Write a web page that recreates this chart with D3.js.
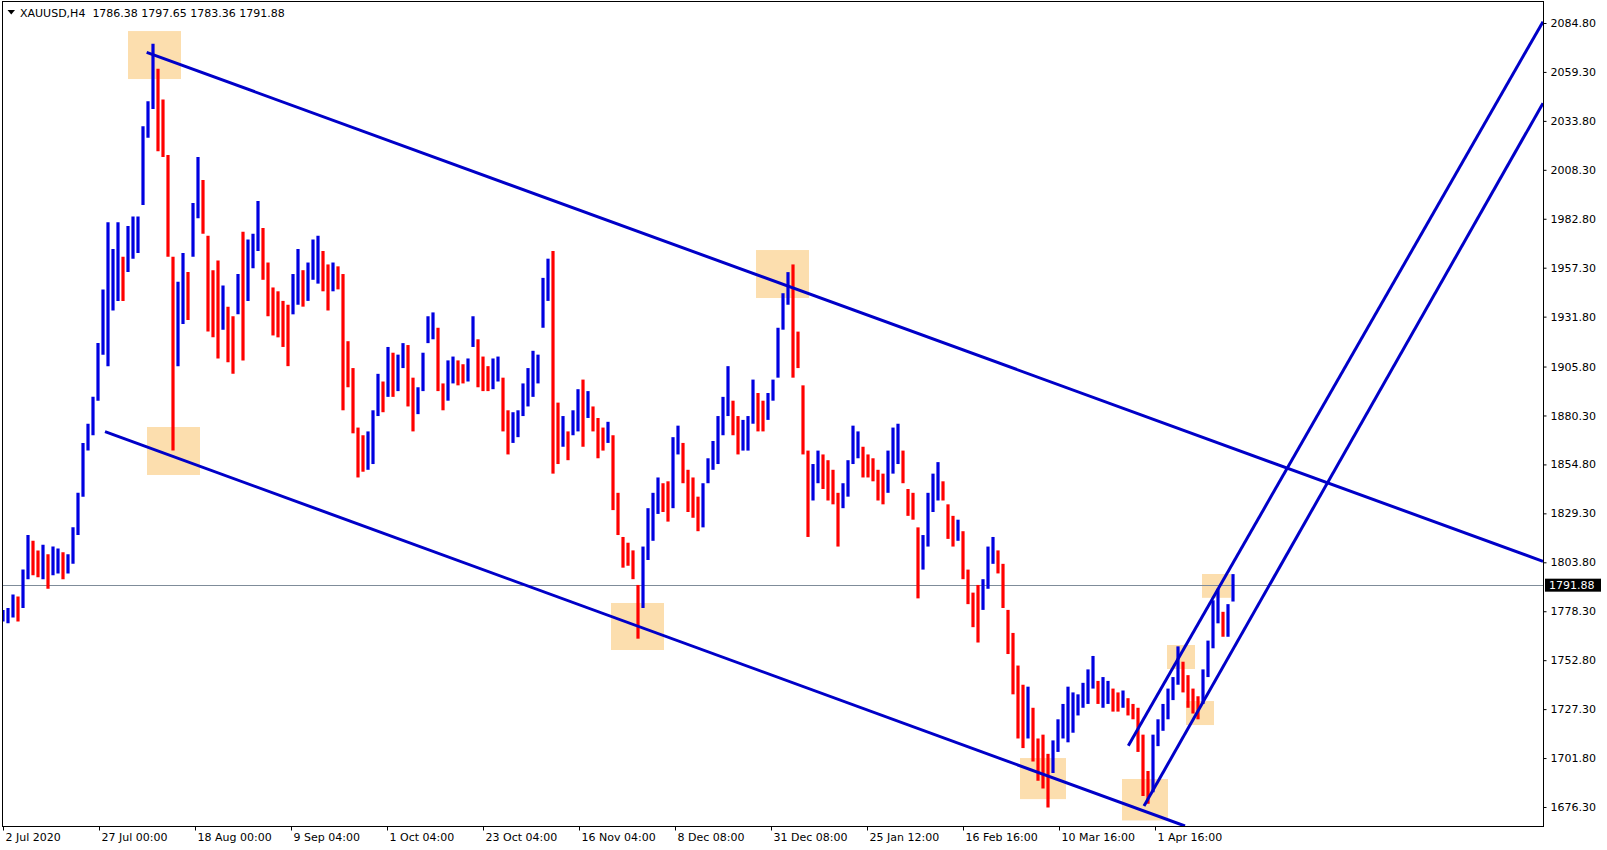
<!DOCTYPE html>
<html>
<head>
<meta charset="utf-8">
<script src="https://cdn.jsdelivr.net/npm/d3@7"></script>
<style>
  html, body { margin: 0; padding: 0; background: #fff; }
  svg { display: block; font-family: "DejaVu Sans", Verdana, sans-serif; }
  text { white-space: pre; }
</style>
</head>
<body>
<svg id="chart" width="1607" height="850"></svg>
<script>
// ---------- data ----------
const symbolTitle = "XAUUSD,H4  1786.38 1797.65 1783.36 1791.88";
const lastPrice = 1791.88;

// aggregated H4 bars (about 5 bars per sample), left to right
const barHigh = [
 1779,1780,1787,1786,1800,1818,1815,1810,1813,1808,
 1812,1811,1809,1808,1822,1840,1866,1876,1890,1918,
 1946,1981,1967,1981,1963,1979,1984,1984,2031,2044,
 2074,2061,2045,2016,1963,1950,1965,1955,1991,2015,
 2003,1974,1956,1961,1948,1937,1932,1954,1976,1972,
 1975,1992,1978,1960,1947,1945,1940,1938,1954,1967,
 1956,1960,1972,1974,1966,1959,1960,1958,1954,1919,
 1905,1874,1870,1872,1883,1902,1898,1916,1913,1912,
 1918,1917,1900,1895,1913,1932,1934,1926,1897,1909,
 1911,1909,1907,1910,1932,1920,1911,1906,1910,1911,
 1900,1883,1882,1883,1897,1905,1914,1912,1952,1962,
 1966,1887,1880,1872,1883,1894,1899,1893,1885,1879,
 1874,1877,1870,1840,1817,1814,1810,1792,1812,1832,
 1840,1848,1845,1846,1869,1875,1866,1852,1848,1838,
 1845,1858,1867,1880,1890,1906,1888,1880,1878,1880,
 1899,1892,1888,1892,1899,1926,1944,1955,1959,1924,
 1896,1862,1855,1862,1860,1857,1852,1840,1845,1857,
 1875,1872,1864,1860,1858,1852,1850,1862,1874,1876,
 1862,1842,1840,1822,1818,1840,1850,1856,1846,1834,
 1828,1826,1820,1800,1788,1792,1795,1812,1817,1810,
 1803,1779,1767,1750,1740,1739,1728,1712,1714,1704,
 1711,1722,1730,1739,1736,1735,1741,1748,1755,1742,
 1744,1742,1738,1736,1737,1733,1730,1728,1714,1695,
 1714,1722,1730,1738,1744,1760,1752,1745,1738,1734,
 1748,1763,1784,1790,1778,1782,1797.65
];
const barLow = [
 1773,1772,1775,1773,1780,1795,1797,1796,1795,1790,
 1797,1798,1795,1798,1803,1818,1838,1862,1870,1888,
 1912,1906,1935,1940,1940,1955,1962,1965,1990,2025,
 2040,2018,2015,1963,1862,1906,1928,1930,1963,1983,
 1975,1924,1921,1910,1925,1908,1902,1933,1909,1940,
 1957,1966,1951,1932,1922,1921,1916,1906,1933,1938,
 1937,1940,1951,1949,1945,1935,1945,1946,1883,1895,
 1871,1848,1851,1852,1855,1880,1882,1890,1890,1893,
 1905,1885,1872,1881,1893,1918,1920,1893,1883,1888,
 1897,1896,1897,1898,1916,1895,1893,1893,1894,1898,
 1872,1860,1866,1869,1880,1885,1890,1897,1926,1940,
 1850,1855,1864,1857,1870,1872,1864,1879,1872,1858,
 1862,1866,1831,1818,1801,1802,1795,1764,1780,1805,
 1815,1829,1830,1825,1832,1860,1845,1830,1827,1820,
 1822,1845,1852,1855,1870,1880,1870,1860,1862,1862,
 1876,1872,1872,1878,1888,1900,1925,1938,1900,1905,
 1860,1817,1836,1845,1842,1836,1834,1812,1832,1838,
 1855,1858,1848,1848,1846,1836,1834,1840,1850,1855,
 1845,1828,1826,1785,1800,1812,1830,1836,1836,1816,
 1812,1815,1795,1782,1770,1762,1779,1790,1803,1798,
 1780,1756,1735,1712,1707,1712,1700,1690,1686,1676,
 1694,1705,1712,1710,1715,1724,1728,1730,1738,1730,
 1728,1730,1726,1726,1728,1724,1722,1705,1682,1678,
 1684,1708,1716,1722,1732,1740,1736,1728,1725,1722,
 1730,1744,1759,1772,1765,1765,1783.36
];

// price axis labels
const priceTicks = [2084.80, 2059.30, 2033.80, 2008.30, 1982.80, 1957.30, 1931.80, 1905.80,
  1880.30, 1854.80, 1829.30, 1803.80, 1778.30, 1752.80, 1727.30, 1701.80, 1676.30];

// time axis labels (position in bar-sample units)
const timeTickPos = [0, 19.2, 38.4, 57.6, 76.8, 96, 115.2, 134.4, 153.6, 172.8, 192, 211.2, 230.4];
const timeTickLabels = ["2 Jul 2020", "27 Jul 00:00", "18 Aug 00:00", "9 Sep 04:00", "1 Oct 04:00",
  "23 Oct 04:00", "16 Nov 04:00", "8 Dec 08:00", "31 Dec 08:00", "25 Jan 12:00",
  "16 Feb 16:00", "10 Mar 16:00", "1 Apr 16:00"];

// trend lines: [[pos, price], [pos, price]]
const trendLines = [
  [[28.74, 2069.5], [308, 1804.3]],   // upper falling channel line
  [[20.4, 1871.9], [236.4, 1666.4]],  // lower falling channel line
  [[225.06, 1708.2], [308, 2085.5]],  // upper rising channel line
  [[228.2, 1676.8], [308, 2043.0]]    // lower rising channel line
];

// highlight boxes: [pos0, pos1, priceTop, priceBottom]
const highlightBoxes = [
  [25.0, 35.6, 2080.6, 2055.6],
  [28.8, 39.4, 1874.3, 1849.3],
  [150.6, 161.2, 1966.5, 1941.5],
  [121.6, 132.2, 1782.6, 1758.1],
  [203.4, 212.6, 1701.8, 1680.4],
  [223.8, 233.0, 1690.9, 1669.3],
  [232.8, 238.4, 1760.7, 1748.2],
  [236.6, 242.2, 1731.5, 1719.0],
  [239.8, 245.6, 1797.7, 1785.3]
];

// ---------- chart ----------
const svg = d3.select("#chart");
const plot = { left: 2.5, top: 1.5, right: 1543.5, bottom: 826.5 };
const N = barHigh.length;

const x = d3.scaleLinear().domain([0, N - 1]).range([3, 1233]);
const y = d3.scaleLinear().domain([1666.4, 2096.26]).range([826, 1]);

const upColor = "#0000e0", downColor = "#ff0000", lineColor = "#0000c8";

svg.append("defs").append("clipPath").attr("id", "plotclip")
  .append("rect").attr("x", plot.left).attr("y", plot.top)
  .attr("width", plot.right - plot.left).attr("height", plot.bottom - plot.top);

const g = svg.append("g").attr("clip-path", "url(#plotclip)");

// highlight boxes
g.selectAll("rect.hl").data(highlightBoxes).join("rect")
  .attr("class", "hl")
  .attr("x", d => x(d[0])).attr("width", d => x(d[1]) - x(d[0]))
  .attr("y", d => y(d[2])).attr("height", d => y(d[3]) - y(d[2]))
  .attr("fill", "#fcdeae");

// last price line
g.append("line")
  .attr("x1", plot.left).attr("x2", plot.right)
  .attr("y1", Math.round(y(lastPrice)) + 0.5).attr("y2", Math.round(y(lastPrice)) + 0.5)
  .attr("stroke", "#7f8c99").attr("stroke-width", 1);

// bars
const bars = d3.range(N).map(i => {
  const mid = (barHigh[i] + barLow[i]) / 2;
  const prevMid = i > 0 ? (barHigh[i - 1] + barLow[i - 1]) / 2 : mid;
  return { i, h: barHigh[i], l: barLow[i], up: mid >= prevMid };
});
g.selectAll("line.bar").data(bars).join("line")
  .attr("class", "bar")
  .attr("x1", d => x(d.i)).attr("x2", d => x(d.i))
  .attr("y1", d => y(d.h)).attr("y2", d => y(d.l))
  .attr("stroke", d => d.up ? upColor : downColor)
  .attr("stroke-width", 3.2);

// trend lines
g.selectAll("line.trend").data(trendLines).join("line")
  .attr("class", "trend")
  .attr("x1", d => x(d[0][0])).attr("y1", d => y(d[0][1]))
  .attr("x2", d => x(d[1][0])).attr("y2", d => y(d[1][1]))
  .attr("stroke", lineColor).attr("stroke-width", 3);

// frame
svg.append("rect")
  .attr("x", plot.left).attr("y", plot.top)
  .attr("width", plot.right - plot.left).attr("height", plot.bottom - plot.top)
  .attr("fill", "none").attr("stroke", "#000").attr("stroke-width", 1);

// right price axis
const yAxis = d3.axisRight(y).tickValues(priceTicks).tickFormat(d3.format(".2f")).tickSize(3).tickPadding(4);
const ya = svg.append("g").attr("transform", `translate(${plot.right},0)`).call(yAxis);
ya.select(".domain").remove();
ya.selectAll("text").attr("font-size", 11).attr("font-family", "DejaVu Sans").attr("fill", "#000");
ya.selectAll("line").attr("stroke", "#000");

// bottom time axis
const xAxis = d3.axisBottom(x).tickValues(timeTickPos)
  .tickFormat((d, i) => timeTickLabels[i]).tickSize(4);
const xa = svg.append("g").attr("transform", `translate(0,${plot.bottom})`).call(xAxis);
xa.select(".domain").remove();
xa.selectAll("text").attr("font-size", 11).attr("font-family", "DejaVu Sans").attr("fill", "#000")
  .attr("text-anchor", "start").attr("x", 2).attr("y", 7).attr("dy", "0.71em");
xa.selectAll("line").attr("stroke", "#000");

// last price tag
const ly = y(lastPrice);
svg.append("rect").attr("x", 1545).attr("y", ly - 6.5).attr("width", 56).attr("height", 13).attr("fill", "#000");
svg.append("text").attr("x", 1549).attr("y", ly).attr("dy", "0.35em")
  .attr("font-size", 11).attr("fill", "#fff").text(d3.format(".2f")(lastPrice));

// title
svg.append("path").attr("d", "M7.5,10 L15,10 L11.25,14.5 Z").attr("fill", "#000");
svg.append("text").attr("x", 20).attr("y", 13).attr("dy", "0.35em")
  .attr("font-size", 11).attr("fill", "#000").text(symbolTitle);
</script>
</body>
</html>
